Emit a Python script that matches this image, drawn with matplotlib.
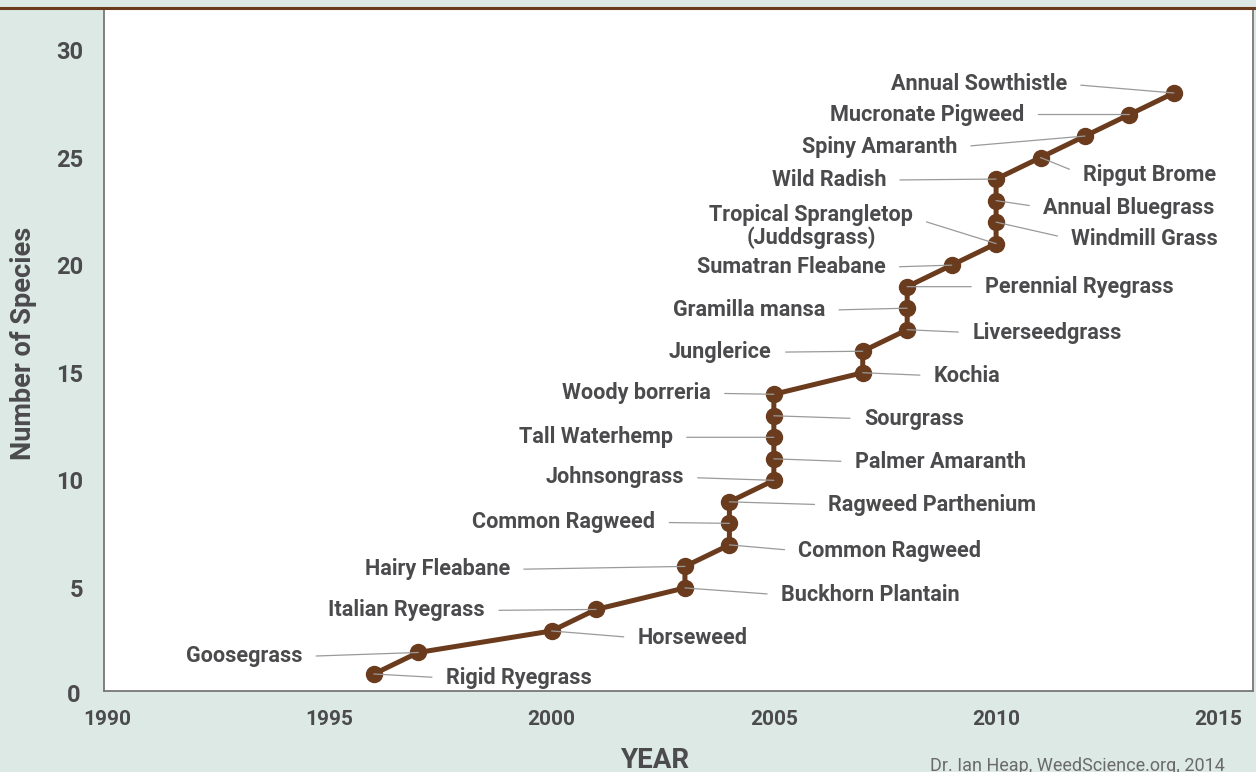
import matplotlib
matplotlib.use("Agg")
import matplotlib.pyplot as plt
from matplotlib.lines import Line2D
from matplotlib.transforms import blended_transform_factory

years = [1996, 1997, 2000, 2001, 2003, 2003, 2004, 2004, 2004, 2005, 2005, 2005, 2005, 2005,
         2007, 2007, 2008, 2008, 2008, 2009, 2010, 2010, 2010, 2010, 2011, 2012, 2013, 2014]
species_count = list(range(1, 29))
species_names = ["Rigid Ryegrass", "Goosegrass", "Horseweed", "Italian Ryegrass",
                 "Buckhorn Plantain", "Hairy Fleabane", "Common Ragweed", "Common Ragweed",
                 "Ragweed Parthenium", "Johnsongrass", "Palmer Amaranth", "Tall Waterhemp",
                 "Sourgrass", "Woody borreria", "Kochia", "Junglerice", "Liverseedgrass",
                 "Gramilla mansa", "Perennial Ryegrass", "Sumatran Fleabane",
                 "Tropical Sprangletop\n(Juddsgrass)", "Windmill Grass", "Annual Bluegrass",
                 "Wild Radish", "Ripgut Brome", "Spiny Amaranth", "Mucronate Pigweed",
                 "Annual Sowthistle"]
# label placement: (dx px, dy px, side)
label_offsets = [(72, -2, 'l'), (-116, -2, 'r'), (86, -5, 'l'), (-111, 1, 'r'),
                 (96, -5, 'l'), (-175, -1, 'r'), (69, -4, 'l'), (-74, 3, 'r'),
                 (99, -1, 'l'), (-90, 5, 'r'), (81, -1, 'l'), (-101, 2, 'r'),
                 (90, -1, 'l'), (-63, 3, 'r'), (71, -1, 'l'), (-91, 1, 'r'),
                 (65, -1, 'l'), (-82, 0, 'r'), (78, 2, 'l'), (-66, 0, 'r'),
                 (-83, 19, 'r'), (75, -15, 'l'), (47, -5, 'l'), (-110, 1, 'r'),
                 (42, -15, 'l'), (-128, -9, 'r'), (-105, 2, 'r'), (-107, 11, 'r')]
xticks = [1990, 1995, 2000, 2005, 2010, 2015]
yticks = [0, 5, 10, 15, 20, 25, 30]

BG = "#dde9e4"
BROWN = "#6b3b1e"
TXT = "#4b4b4d"
FONT = "Roboto"
TEXT_BASELINE_SHIFT = -2  # px, compensates for descender-centred text boxes

fig = plt.figure(figsize=(12.56, 7.72), dpi=100, facecolor=BG)
ax = fig.add_axes([104/1256, 81/772, 1149/1256, 683/772])
ax.set_facecolor("white")

ax.plot(years, species_count, color=BROWN, lw=3.6, marker='o', ms=11.5,
        mfc=BROWN, mec=BROWN, zorder=3, solid_capstyle='round')

for yr, n, name, (dx, dy, side) in zip(years, species_count, species_names, label_offsets):
    ha = 'right' if side == 'r' else 'left'
    relpos = (1, 0.5) if side == 'r' else (0, 0.5)
    if "\n" in name:
        relpos = (1, 0.7)
    ax.annotate(name, xy=(yr, n), xytext=(dx, dy + TEXT_BASELINE_SHIFT),
                textcoords='offset pixels',
                ha=ha, va='center', ma='center', fontsize=15.6, fontweight='bold',
                family=FONT, color=TXT, linespacing=1.0,
                arrowprops=dict(arrowstyle='-', color='#9a9a9a', lw=0.9,
                                shrinkA=8, shrinkB=0, relpos=relpos),
                zorder=4)

ax.set_xlim(1989.93, 2015.78)
ax.set_ylim(0.21, 31.95)
ax.set_xticks(xticks)
ax.set_yticks(yticks[1:])
ax.tick_params(length=0)
ax.tick_params(axis='x', pad=14)
ax.tick_params(axis='y', pad=15)
for lab in ax.get_xticklabels():
    lab.set_fontfamily(FONT)
    lab.set_fontweight('bold')
    lab.set_fontsize(15)
    lab.set_color(TXT)
for lab in ax.get_yticklabels():
    lab.set_fontfamily(FONT)
    lab.set_fontweight('bold')
    lab.set_fontsize(17)
    lab.set_color(TXT)
# the "0" tick sits just below the plotting area
trans = blended_transform_factory(ax.transAxes, ax.transData)
ax.text(-23/1149, yticks[0], str(yticks[0]), transform=trans, ha='right', va='center',
        fontsize=17, fontweight='bold', family=FONT, color=TXT, clip_on=False)

for s in ['left', 'bottom', 'right']:
    ax.spines[s].set_color('#777777')
    ax.spines[s].set_linewidth(1.3)
ax.spines['top'].set_visible(False)

fig.add_artist(Line2D([0, 1], [1 - 8/772, 1 - 8/772], color=BROWN, lw=2.2,
                      transform=fig.transFigure))

fig.text(656/1256, 1 - 760/772, "YEAR", ha='center', va='center', fontsize=20,
         fontweight='bold', family=FONT, color=TXT)
fig.text(24/1256, 1 - 343/772, "Number of Species", ha='center', va='center',
         rotation=90, fontsize=19.5, fontweight='bold', family=FONT, color=TXT)
fig.text(1077/1256, 1 - 766/772, "Dr. Ian Heap, WeedScience.org, 2014", ha='center',
         va='center', fontsize=13, family=FONT, color='#6a6a6a')

fig.savefig("out.png", dpi=100, facecolor=BG)
